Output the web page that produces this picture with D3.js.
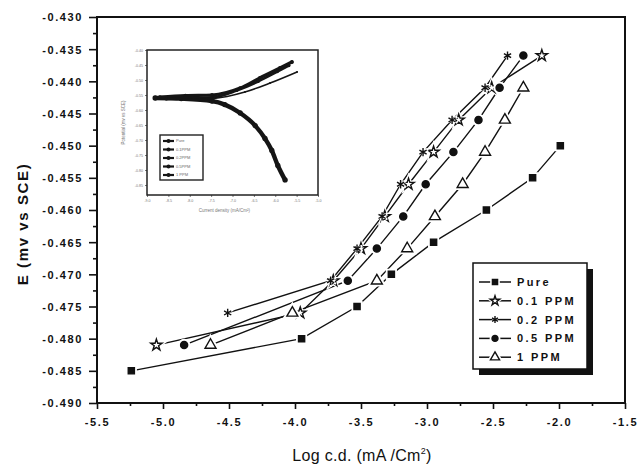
<!DOCTYPE html>
<html>
<head>
<meta charset="utf-8">
<script src="https://cdn.jsdelivr.net/npm/d3@7"></script>
<style>
  body { margin: 0; background: #fff; }
  text { font-family: 'Liberation Sans', Arial, sans-serif; fill: #111; }
</style>
</head>
<body>
<div id="chart"></div>
<script>
// main chart data (log c.d. vs potential)
const seriesNames = ['Pure', '0.1 PPM', '0.2 PPM', '0.5 PPM', '1 PPM']

const pureX = [-5.24, -3.95, -3.53, -3.27, -2.95, -2.55, -2.20, -1.99]
const pureY = [-0.485, -0.480, -0.475, -0.470, -0.465, -0.460, -0.455, -0.450]

const ppm01X = [-5.05, -3.96, -3.71, -3.50, -3.32, -3.14, -2.95, -2.76, -2.51, -2.13]
const ppm01Y = [-0.481, -0.476, -0.471, -0.466, -0.461, -0.456, -0.451, -0.446, -0.441, -0.436]

const ppm02X = [-4.51, -3.73, -3.53, -3.34, -3.20, -3.03, -2.81, -2.56, -2.39]
const ppm02Y = [-0.476, -0.471, -0.466, -0.461, -0.456, -0.451, -0.446, -0.441, -0.436]

const ppm05X = [-4.84, -3.60, -3.38, -3.18, -3.01, -2.80, -2.61, -2.45, -2.27]
const ppm05Y = [-0.481, -0.471, -0.466, -0.461, -0.456, -0.451, -0.446, -0.441, -0.436]

const ppm1X = [-4.64, -4.02, -3.38, -3.15, -2.94, -2.73, -2.56, -2.41, -2.27]
const ppm1Y = [-0.481, -0.476, -0.471, -0.466, -0.461, -0.456, -0.451, -0.446, -0.441]

// tick values
const xTicks = [-5.5, -5.0, -4.5, -4.0, -3.5, -3.0, -2.5, -2.0, -1.5]
const xMinorTicks = [-5.25, -4.75, -4.25, -3.75, -3.25, -2.75, -2.25, -1.75]
const yTicks = [-0.490, -0.485, -0.480, -0.475, -0.470, -0.465, -0.460, -0.455, -0.450, -0.445, -0.440, -0.435, -0.430]
const yMinorTicks = [-0.4875, -0.4825, -0.4775, -0.4725, -0.4675, -0.4625, -0.4575, -0.4525, -0.4475, -0.4425, -0.4375, -0.4325]

// inset (full tafel curves)
const insetXTicks = [-9.0, -8.5, -8.0, -7.5, -7.0, -6.5, -6.0, -5.5, -5.0]
const insetYTicks = [-0.40, -0.45, -0.50, -0.55, -0.60, -0.65, -0.70, -0.75, -0.80, -0.85]
const insetCathodicX = [-8.81, -8.2, -7.48, -7.18, -6.82, -6.47, -6.24, -6.08, -5.94, -5.77]
const insetCathodicY = [-0.560, -0.562, -0.570, -0.582, -0.610, -0.652, -0.695, -0.735, -0.785, -0.833]
const insetAnodicAX = [-8.70, -8.1, -7.48, -6.82, -6.36, -5.89, -5.61]
const insetAnodicAY = [-0.557, -0.552, -0.550, -0.527, -0.493, -0.460, -0.440]
const insetAnodicBX = [-8.55, -8.0, -7.48, -6.90, -6.40, -5.95, -5.68]
const insetAnodicBY = [-0.563, -0.560, -0.558, -0.535, -0.505, -0.472, -0.452]
const insetAnodicCX = [-8.2, -7.48, -6.71, -6.12, -5.49]
const insetAnodicCY = [-0.566, -0.562, -0.540, -0.510, -0.473]
const insetLegendNames = ['Pure', '0.1PPM', '0.2PPM', '0.5PPM', '1 PPM']

// set up svg margins and dimensions
const margin = {top: 17, right: 13, bottom: 63, left: 97},
  svgWidth  = 638 - margin.left - margin.right,
  svgHeight = 466 - margin.top - margin.bottom

const root = d3.select('div#chart').append('svg')
  .attr('width', 638)
  .attr('height', 466)

const svg = root.append('g')
  .attr('transform', 'translate(' + margin.left + ',' + margin.top + ')')

const xScale = d3.scaleLinear().domain([-5.5, -1.5]).range([0, svgWidth])
const yScale = d3.scaleLinear().domain([-0.490, -0.430]).range([svgHeight, 0])

// axes, major and minor ticks
const styleAxis = (g) => {
  g.select('.domain').remove()
  g.selectAll('line').attr('stroke', '#111').attr('stroke-width', 1.6)
  g.selectAll('text')
    .style('font-size', '11px')
    .style('font-weight', 'bold')
    .style('letter-spacing', '1.6px')
}

svg.append('g')
  .attr('transform', 'translate(0,' + svgHeight + ')')
  .call(d3.axisBottom(xScale).tickValues(xTicks).tickSize(6).tickPadding(9).tickFormat((d) => d.toFixed(1)))
  .call(styleAxis)

svg.append('g')
  .attr('transform', 'translate(0,' + svgHeight + ')')
  .call(d3.axisBottom(xScale).tickValues(xMinorTicks).tickSize(3).tickFormat(''))
  .call(styleAxis)

svg.append('g')
  .call(d3.axisLeft(yScale).tickValues(yTicks).tickSize(8).tickPadding(6).tickFormat((d) => d.toFixed(3)))
  .call(styleAxis)
  .selectAll('text').attr('dy', '0.36em')

svg.append('g')
  .call(d3.axisLeft(yScale).tickValues(yMinorTicks).tickSize(4).tickFormat(''))
  .call(styleAxis)

// frame
svg.append('rect')
  .attr('width', svgWidth)
  .attr('height', svgHeight)
  .attr('fill', 'none')
  .attr('stroke', '#111')
  .attr('stroke-width', 2)

// axis titles
root.append('text')
  .attr('x', 362)
  .attr('y', 461)
  .attr('text-anchor', 'middle')
  .style('font-size', '16px')
  .style('letter-spacing', '0.3px')
  .text('Log c.d. (mA /Cm')
  .append('tspan')
    .attr('dy', -7)
    .style('font-size', '9px')
    .text('2')
  .select(function() { return this.parentNode })
  .append('tspan')
    .attr('dy', 7)
    .text(')')

root.append('text')
  .attr('transform', 'translate(28,224) rotate(-90)')
  .attr('text-anchor', 'middle')
  .style('font-size', '15px')
  .style('font-weight', 'bold')
  .style('letter-spacing', '1.6px')
  .text('E (mv vs SCE)')

// series definitions with their marker symbols
const series = [
  {name: seriesNames[0], xs: pureX, ys: pureY, symbol: d3.symbolSquare, size: 38, fill: '#111'},
  {name: seriesNames[1], xs: ppm01X, ys: ppm01Y, symbol: d3.symbolStar, size: 40, fill: '#fff'},
  {name: seriesNames[2], xs: ppm02X, ys: ppm02Y, symbol: d3.symbolAsterisk, size: 48, fill: 'none'},
  {name: seriesNames[3], xs: ppm05X, ys: ppm05Y, symbol: d3.symbolCircle, size: 40, fill: '#111'},
  {name: seriesNames[4], xs: ppm1X, ys: ppm1Y, symbol: d3.symbolTriangle, size: 52, fill: '#fff'}
]

const line = d3.line()
  .x((d) => xScale(d[0]))
  .y((d) => yScale(d[1]))

const drawMarker = (g, s, x, y) => {
  // white halo leaves a small gap in the line around each marker
  g.append('path')
    .attr('d', d3.symbol().type(s.symbol).size(s.size * 2.2)())
    .attr('transform', 'translate(' + x + ',' + y + ')')
    .attr('fill', '#fff')
    .attr('stroke', '#fff')
    .attr('stroke-width', 2)
  g.append('path')
    .attr('d', d3.symbol().type(s.symbol).size(s.size)())
    .attr('transform', 'translate(' + x + ',' + y + ')')
    .attr('fill', s.fill)
    .attr('stroke', '#111')
    .attr('stroke-width', 1.4)
}

const lines = svg.append('g')
const marks = svg.append('g')

series.forEach((s) => {
  const pts = s.xs.map((x, i) => [x, s.ys[i]])
  lines.append('path')
    .attr('d', line(pts))
    .attr('fill', 'none')
    .attr('stroke', '#111')
    .attr('stroke-width', 1.4)
  pts.forEach((p) => drawMarker(marks, s, xScale(p[0]), yScale(p[1])))
})

// legend with drop shadow
const legend = root.append('g').attr('transform', 'translate(473,263)')
legend.append('rect')
  .attr('x', 6).attr('y', 6)
  .attr('width', 114).attr('height', 106)
  .attr('fill', '#111')
legend.append('rect')
  .attr('width', 114).attr('height', 106)
  .attr('fill', '#fff')
  .attr('stroke', '#111')
  .attr('stroke-width', 1.5)

series.forEach((s, i) => {
  const ly = 19 + i * 18.8
  legend.append('line')
    .attr('x1', 6).attr('x2', 38)
    .attr('y1', ly).attr('y2', ly)
    .attr('stroke', '#111')
    .attr('stroke-width', 1.5)
  drawMarker(legend, Object.assign({}, s, {size: s.size * 0.7}), 22, ly)
  legend.append('text')
    .attr('x', 44)
    .attr('y', ly)
    .attr('dy', '0.36em')
    .style('font-size', '11px')
    .style('font-weight', 'bold')
    .style('letter-spacing', '2.4px')
    .text(s.name)
})

// inset plot
const inW = 171, inH = 145
const inset = root.append('g').attr('transform', 'translate(147,50)')

const ixScale = d3.scaleLinear().domain([-9.0, -5.0]).range([0, inW])
const iyScale = d3.scaleLinear().domain([-0.40, -0.8833]).range([0, inH])

const styleInsetAxis = (g) => {
  g.select('.domain').remove()
  g.selectAll('line').attr('stroke', '#555').attr('stroke-width', 0.8)
  g.selectAll('text').style('font-size', '3.6px').style('fill', '#777')
}

inset.append('g')
  .attr('transform', 'translate(0,' + inH + ')')
  .call(d3.axisBottom(ixScale).tickValues(insetXTicks).tickSize(2).tickPadding(2).tickFormat((d) => d.toFixed(1)))
  .call(styleInsetAxis)

inset.append('g')
  .call(d3.axisLeft(iyScale).tickValues(insetYTicks).tickSize(2).tickPadding(2).tickFormat((d) => d.toFixed(2)))
  .call(styleInsetAxis)

inset.append('rect')
  .attr('width', inW).attr('height', inH)
  .attr('fill', 'none')
  .attr('stroke', '#222')
  .attr('stroke-width', 1.5)

const iline = d3.line()
  .curve(d3.curveMonotoneX)
  .x((d) => ixScale(d[0]))
  .y((d) => iyScale(d[1]))

const insetCurves = [
  {xs: insetCathodicX, ys: insetCathodicY, w: 4.4},
  {xs: insetAnodicAX, ys: insetAnodicAY, w: 3.2},
  {xs: insetAnodicBX, ys: insetAnodicBY, w: 2.6},
  {xs: insetAnodicCX, ys: insetAnodicCY, w: 1.6}
]

insetCurves.forEach((c) => {
  const pts = c.xs.map((x, i) => [x, c.ys[i]])
  inset.append('path')
    .attr('d', iline(pts))
    .attr('fill', 'none')
    .attr('stroke', '#151515')
    .attr('stroke-width', c.w)
    .attr('stroke-linecap', 'round')
  inset.selectAll(null)
    .data(pts).enter()
    .append('circle')
      .attr('cx', (d) => ixScale(d[0]))
      .attr('cy', (d) => iyScale(d[1]))
      .attr('r', c.w * 0.6)
      .attr('fill', '#151515')
})

// inset legend
const ileg = inset.append('g').attr('transform', 'translate(13,85)')
ileg.append('rect')
  .attr('width', 43).attr('height', 45)
  .attr('fill', '#fff')
  .attr('stroke', '#222')
  .attr('stroke-width', 1.4)
insetLegendNames.forEach((n, i) => {
  const ly = 6 + i * 8.5
  ileg.append('line')
    .attr('x1', 3).attr('x2', 14)
    .attr('y1', ly).attr('y2', ly)
    .attr('stroke', '#151515')
    .attr('stroke-width', 2.2)
  ileg.append('circle')
    .attr('cx', 8.5).attr('cy', ly)
    .attr('r', 2)
    .attr('fill', '#151515')
  ileg.append('text')
    .attr('x', 16).attr('y', ly)
    .attr('dy', '0.36em')
    .style('font-size', '4px')
    .style('fill', '#666')
    .text(n)
})

// inset axis titles
inset.append('text')
  .attr('x', inW / 2 - 8).attr('y', inH + 17)
  .attr('text-anchor', 'middle')
  .style('font-size', '4.5px')
  .style('fill', '#777')
  .text('Current density (mA/Cm²)')

inset.append('text')
  .attr('transform', 'translate(-22,' + inH / 2 + ') rotate(-90)')
  .attr('text-anchor', 'middle')
  .style('font-size', '4.5px')
  .style('fill', '#777')
  .text('Potential (mv vs SCE)')
</script>
</body>
</html>
